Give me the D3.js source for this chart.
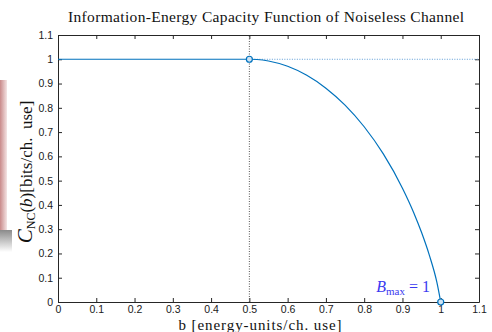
<!DOCTYPE html>
<html>
<head>
<meta charset="utf-8">
<script src="https://cdn.jsdelivr.net/npm/d3@7"></script>
<style>
  body { margin: 0; background: #fff; }
  svg { display: block; }
  .tick text { font-family: "Liberation Sans", Arial, sans-serif; font-size: 10.5px; fill: #1a1a1a; }
</style>
</head>
<body>
<svg id="chart" width="492" height="332"></svg>
<script>
// Capacity curve (flat at 1 until b = 0.5, then falls to 0 at b = 1)
const bValues = [0, 0.5, 0.52, 0.55, 0.6, 0.65, 0.7, 0.75, 0.8, 0.85, 0.9, 0.93, 0.95, 0.97, 0.99, 1];
const capValues = [1, 1, 0.999, 0.993, 0.971, 0.934, 0.881, 0.811, 0.722, 0.61, 0.469, 0.366, 0.286, 0.194, 0.081, 0];
const markerB = [0.5, 1];
const markerCap = [1, 0];
const xTicks = [0, 0.1, 0.2, 0.3, 0.4, 0.5, 0.6, 0.7, 0.8, 0.9, 1, 1.1];
const yTicks = [0, 0.1, 0.2, 0.3, 0.4, 0.5, 0.6, 0.7, 0.8, 0.9, 1, 1.1];

const svg = d3.select("#chart");
const plotLeft = 58, plotRight = 479, plotTop = 35, plotBottom = 302;

const x = d3.scaleLinear().domain([0, 1.1]).range([plotLeft, plotRight]);
const y = d3.scaleLinear().domain([0, 1.1]).range([plotBottom, plotTop]);

// Stray strip at the left edge of the picture
const defs = svg.append("defs");
const grad = defs.append("linearGradient").attr("id", "strip").attr("x1", 0).attr("x2", 1);
grad.append("stop").attr("offset", "0%").attr("stop-color", "#c98a8a");
grad.append("stop").attr("offset", "100%").attr("stop-color", "#f4e4e4");
svg.append("rect").attr("x", 0).attr("y", 80).attr("width", 7).attr("height", 150).attr("fill", "url(#strip)");
const shade = defs.append("linearGradient").attr("id", "shade").attr("x1", 0).attr("x2", 0).attr("y1", 0).attr("y2", 1);
shade.append("stop").attr("offset", "0%").attr("stop-color", "#8a8a8a");
shade.append("stop").attr("offset", "100%").attr("stop-color", "#ffffff");
svg.append("rect").attr("x", 0).attr("y", 230).attr("width", 12).attr("height", 22).attr("fill", "url(#shade)");

// Axes box with inward ticks on all four sides
const tickLen = 4;
svg.append("g").attr("transform", `translate(0,${plotBottom})`)
  .call(d3.axisBottom(x).tickValues(xTicks).tickFormat(d3.format("")).tickSizeInner(-tickLen).tickSizeOuter(0).tickPadding(4));
svg.append("g").attr("transform", `translate(0,${plotTop})`)
  .call(d3.axisTop(x).tickValues(xTicks).tickFormat("").tickSizeInner(-tickLen).tickSizeOuter(0));
svg.append("g").attr("transform", `translate(${plotLeft},0)`)
  .call(d3.axisLeft(y).tickValues(yTicks).tickFormat(d3.format("")).tickSizeInner(-tickLen).tickSizeOuter(0).tickPadding(5));
svg.append("g").attr("transform", `translate(${plotRight},0)`)
  .call(d3.axisRight(y).tickValues(yTicks).tickFormat("").tickSizeInner(-tickLen).tickSizeOuter(0));
svg.selectAll(".domain, .tick line").attr("stroke", "#262626").attr("stroke-width", 1);

// Dotted guides
svg.append("line")
  .attr("x1", x(0.5)).attr("x2", x(0.5)).attr("y1", y(0)).attr("y2", y(1.1))
  .attr("stroke", "#555").attr("stroke-width", 1).attr("stroke-dasharray", "1,1.5");
svg.append("line")
  .attr("x1", x(0.5)).attr("x2", x(1.1)).attr("y1", y(1)).attr("y2", y(1))
  .attr("stroke", "#5b9bd5").attr("stroke-width", 1).attr("stroke-dasharray", "1,1.5");

// Capacity curve
const line = d3.line().x((d, i) => x(bValues[i])).y((d, i) => y(capValues[i])).curve(d3.curveMonotoneX);
svg.append("path")
  .datum(bValues)
  .attr("d", line)
  .attr("fill", "none")
  .attr("stroke", "#0072BD")
  .attr("stroke-width", 1.2);

// Open markers
svg.selectAll(".marker")
  .data(markerB)
  .join("circle")
  .attr("cx", (d) => x(d))
  .attr("cy", (d, i) => y(markerCap[i]))
  .attr("r", 3)
  .attr("fill", "#cfe3f3")
  .attr("stroke", "#0072BD")
  .attr("stroke-width", 1.2);

// Bmax label
const bmax = svg.append("text")
  .attr("x", 430).attr("y", 292)
  .attr("text-anchor", "end")
  .attr("fill", "#3a3af0")
  .style("font-family", "'Liberation Serif', 'DejaVu Serif', serif")
  .style("font-size", "16px");
bmax.append("tspan").style("font-style", "italic").text("B");
bmax.append("tspan").attr("dy", 3).style("font-size", "11px").text("max");
bmax.append("tspan").attr("dy", -3).text(" = 1");

// Title
svg.append("text")
  .attr("x", 266).attr("y", 22)
  .attr("text-anchor", "middle")
  .attr("textLength", 396)
  .style("font-family", "'Liberation Serif', serif")
  .style("font-size", "15.5px")
  .attr("fill", "#111")
  .text("Information-Energy Capacity Function of Noiseless Channel");

// X label
svg.append("text")
  .attr("x", 260).attr("y", 330)
  .attr("text-anchor", "middle")
  .attr("textLength", 163)
  .style("font-family", "'Liberation Serif', serif")
  .style("font-size", "15px")
  .attr("fill", "#111")
  .text("b [energy-units/ch. use]");

// Y label
const ylab = svg.append("text")
  .attr("transform", `translate(32,172) rotate(-90)`)
  .attr("text-anchor", "middle")
  .style("font-family", "'Liberation Serif', serif")
  .style("font-size", "17px")
  .attr("fill", "#111");
ylab.append("tspan").style("font-style", "italic").style("font-size", "21px").text("C");
ylab.append("tspan").attr("dy", 3).style("font-size", "12px").text("NC");
ylab.append("tspan").attr("dy", -3).text("(");
ylab.append("tspan").style("font-style", "italic").text("b");
ylab.append("tspan").text(")[bits/ch.\u00a0\u00a0use]");
</script>
</body>
</html>
